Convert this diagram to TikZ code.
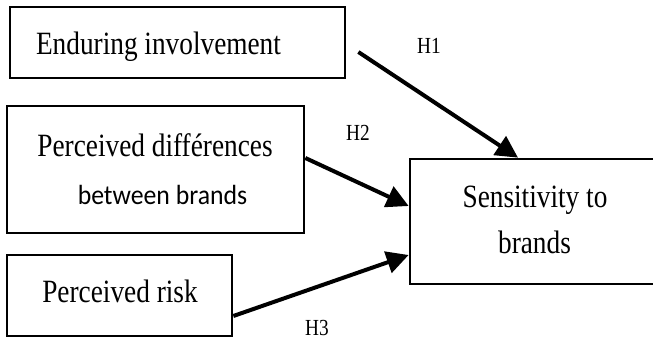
\documentclass[tikz,border=0pt]{standalone}
\usepackage{fontspec}
\usetikzlibrary{arrows.meta,calc}
\newfontfamily\tnr{Liberation Serif}[FakeStretch=0.84]
\newfontfamily\cbr{Carlito}[FakeStretch=0.93]
\begin{document}
\begin{tikzpicture}[x=1pt,y=-1pt,
  box/.style={draw=black,line width=2.7pt,fill=white,rectangle,inner sep=0pt},
  txt/.style={anchor=base,inner sep=0pt,font=\tnr\fontsize{32.5}{39}\selectfont},
  stxt/.style={anchor=base,inner sep=0pt,font=\cbr\fontsize{27.7}{33}\selectfont},
  hyp/.style={anchor=center,inner sep=0pt,font=\tnr\fontsize{23}{27}\selectfont},
  arr/.style={line width=4pt,-{Triangle[length=22pt,width=22pt]}}]
\path[use as bounding box] (0,0) rectangle (653,342);
\clip (0,0) rectangle (653,342);
% boxes
\node[box,minimum width=335pt,minimum height=71pt] (b1) at (177.5,42.5) {};
\node[box,minimum width=297pt,minimum height=127pt] (b2) at (155.5,169.5) {};
\node[box,minimum width=225pt,minimum height=81pt] (b3) at (119.5,295.5) {};
\node[box,minimum width=250pt,minimum height=125pt] (b4) at (535,221.5) {};
% texts
\node[txt] (t1) at (158.5,55) {Enduring involvement};
\node[txt] (t2a) at (155,157) {Perceived différences};
\node[stxt] (t2b) at (162.5,204) {between brands};
\node[txt] (t3) at (120,302) {Perceived risk};
\node[txt] (t4a) at (535,207) {Sensitivity to};
\node[txt] (t4b) at (534.5,253) {brands};
% hypothesis labels
\node[hyp] (h1) at (429,46) {H1};
\node[hyp] (h2) at (358,133) {H2};
\node[hyp] (h3) at (317,328) {H3};
% connector ends
\coordinate (s1) at ($(b1.east)+(12,9.5)$);
\coordinate (e1) at ($(b4.north)+(-17,0)$);
\coordinate (s2) at ($(b2.east)+(0,-11.5)$);
\coordinate (e2) at ($(b4.west)+(0,-15.5)$);
\coordinate (s3) at ($(b3.east)+(0,20.5)$);
\coordinate (e3) at ($(b4.west)+(0,33.5)$);
\draw[arr] (s1) -- (e1);
\draw[arr] (s2) -- (e2);
\draw[arr] (s3) -- (e3);
\end{tikzpicture}
\end{document}
